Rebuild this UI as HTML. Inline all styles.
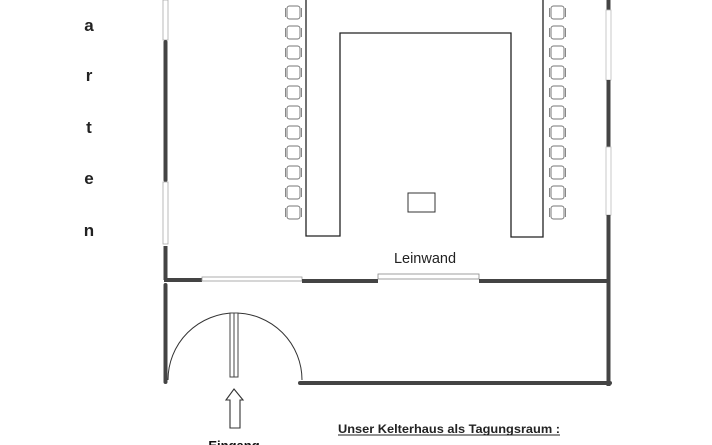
<!DOCTYPE html>
<html><head><style>html,body{margin:0;padding:0;background:#fff;width:712px;height:445px;overflow:hidden}</style></head>
<body>
<svg width="712" height="445" viewBox="0 0 712 445" xmlns="http://www.w3.org/2000/svg" font-family="Liberation Sans, Arial, sans-serif">
<defs>
<g id="ch">
<rect x="2" y="1" width="13" height="13" rx="2.5" fill="#fff" stroke="#777" stroke-width="1"/>
<line x1="0.5" y1="3" x2="0.5" y2="12" stroke="#888" stroke-width="1"/>
<line x1="16.5" y1="3" x2="16.5" y2="12" stroke="#888" stroke-width="1"/>
</g>
</defs>
<g font-weight="bold" font-size="17" fill="#222" text-anchor="middle">
<text x="89" y="31">a</text><text x="89" y="81">r</text><text x="89" y="133">t</text><text x="89" y="184">e</text><text x="89" y="236">n</text>
</g>
<rect x="163" y="0" width="5" height="40" fill="#fff" stroke="#aaa" stroke-width="0.8"/>
<line x1="165.5" y1="42" x2="165.5" y2="180" stroke="#444" stroke-width="4" stroke-linecap="round"/>
<rect x="163" y="182" width="5" height="62" fill="#fff" stroke="#aaa" stroke-width="0.8"/>
<line x1="165.5" y1="246" x2="165.5" y2="280" stroke="#444" stroke-width="4"/>
<line x1="608.5" y1="0" x2="608.5" y2="10" stroke="#444" stroke-width="4"/>
<rect x="606" y="10" width="5" height="70" fill="#fff" stroke="#bbb" stroke-width="0.8"/>
<line x1="608.5" y1="80" x2="608.5" y2="147" stroke="#444" stroke-width="4"/>
<rect x="606" y="147" width="5" height="68" fill="#fff" stroke="#bbb" stroke-width="0.8"/>
<line x1="608.5" y1="215" x2="608.5" y2="386" stroke="#444" stroke-width="4"/>
<line x1="164" y1="280" x2="202" y2="280" stroke="#444" stroke-width="4"/>
<rect x="202" y="277" width="100" height="4" fill="#fff" stroke="#999" stroke-width="0.8"/>
<line x1="302" y1="281" x2="378" y2="281" stroke="#444" stroke-width="4"/>
<rect x="378" y="274" width="101" height="5" fill="#fff" stroke="#888" stroke-width="0.8"/>
<line x1="479" y1="281" x2="608" y2="281" stroke="#444" stroke-width="4"/>
<line x1="165.5" y1="285" x2="165.5" y2="382" stroke="#444" stroke-width="4" stroke-linecap="round"/>
<line x1="300" y1="383" x2="610" y2="383" stroke="#444" stroke-width="4" stroke-linecap="round"/>
<path d="M168 380 A67 67 0 0 1 302 380" fill="none" stroke="#333" stroke-width="1"/>
<rect x="230" y="313" width="8" height="64" fill="#fff" stroke="#444" stroke-width="1"/>
<line x1="234" y1="313" x2="234" y2="377" stroke="#444" stroke-width="1"/>
<path d="M234 389 L243 400 L240 400 L240 428 L230 428 L230 400 L226 400 Z" fill="#fff" stroke="#333" stroke-width="1.1"/>
<text x="234" y="450" text-anchor="middle" font-weight="bold" font-size="13" fill="#111">Eingang</text>
<path d="M306 -2 L306 236 L340 236 L340 33 L511 33 L511 237 L543 237 L543 -2 Z" fill="#fff" stroke="#222" stroke-width="1.3"/>
<rect x="408" y="193" width="27" height="19" fill="#fff" stroke="#333" stroke-width="1"/>
<text x="425" y="263" text-anchor="middle" font-size="14.5" fill="#222">Leinwand</text>
<g>
<use href="#ch" x="285" y="5"/><use href="#ch" x="285" y="25"/><use href="#ch" x="285" y="45"/><use href="#ch" x="285" y="65"/><use href="#ch" x="285" y="85"/><use href="#ch" x="285" y="105"/><use href="#ch" x="285" y="125"/><use href="#ch" x="285" y="145"/><use href="#ch" x="285" y="165"/><use href="#ch" x="285" y="185"/><use href="#ch" x="285" y="205"/>
<use href="#ch" x="549" y="5"/><use href="#ch" x="549" y="25"/><use href="#ch" x="549" y="45"/><use href="#ch" x="549" y="65"/><use href="#ch" x="549" y="85"/><use href="#ch" x="549" y="105"/><use href="#ch" x="549" y="125"/><use href="#ch" x="549" y="145"/><use href="#ch" x="549" y="165"/><use href="#ch" x="549" y="185"/><use href="#ch" x="549" y="205"/>
</g>
<text x="338" y="433" font-weight="bold" font-size="12" fill="#222" textLength="222" lengthAdjust="spacingAndGlyphs">Unser Kelterhaus als Tagungsraum :</text>
<line x1="338" y1="435" x2="560" y2="435" stroke="#222" stroke-width="1"/>
</svg>
</body></html>
